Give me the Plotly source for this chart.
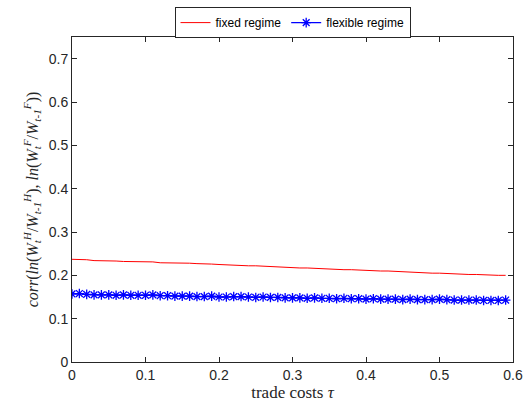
import plotly.graph_objects as go

tau = [round(i * 0.01, 2) for i in range(60)]

fixed_regime = [0.237, 0.237, 0.236, 0.234, 0.234, 0.233, 0.233, 0.232, 0.232, 0.232,
                0.231, 0.231, 0.229, 0.229, 0.228, 0.228, 0.228, 0.227, 0.227, 0.226,
                0.225, 0.224, 0.224, 0.223, 0.222, 0.222, 0.221, 0.220, 0.219, 0.219,
                0.218, 0.217, 0.217, 0.216, 0.216, 0.215, 0.214, 0.213, 0.213, 0.212,
                0.212, 0.211, 0.210, 0.210, 0.209, 0.208, 0.208, 0.207, 0.206, 0.205,
                0.205, 0.204, 0.203, 0.203, 0.202, 0.202, 0.201, 0.201, 0.200, 0.200]

flexible_regime = [0.157, 0.158, 0.156, 0.155, 0.155, 0.155, 0.154, 0.155, 0.154, 0.154,
                   0.154, 0.155, 0.153, 0.153, 0.152, 0.152, 0.152, 0.151, 0.151, 0.152,
                   0.150, 0.150, 0.151, 0.151, 0.150, 0.149, 0.150, 0.149, 0.149, 0.148,
                   0.148, 0.148, 0.147, 0.148, 0.147, 0.147, 0.146, 0.147, 0.146, 0.146,
                   0.145, 0.146, 0.145, 0.145, 0.145, 0.144, 0.145, 0.144, 0.144, 0.144,
                   0.145, 0.144, 0.143, 0.143, 0.143, 0.143, 0.142, 0.142, 0.142, 0.143]

x_ticks = [0, 0.1, 0.2, 0.3, 0.4, 0.5, 0.6]
y_ticks = [0, 0.1, 0.2, 0.3, 0.4, 0.5, 0.6, 0.7]

fig = go.Figure()
fig.add_trace(go.Scatter(x=tau, y=fixed_regime, mode="lines", name="fixed regime",
                         line=dict(color="#ff0000", width=1)))
fig.add_trace(go.Scatter(x=tau, y=flexible_regime, mode="lines+markers", name="flexible regime",
                         line=dict(color="#0000ff", width=1.2),
                         marker=dict(symbol="asterisk-open", size=8,
                                     line=dict(color="#0000ff", width=1.3))))

axis_common = dict(showline=True, linecolor="#262626", linewidth=1, mirror="ticks",
                   ticks="inside", ticklen=5, tickcolor="#262626",
                   showgrid=False, zeroline=False,
                   tickfont=dict(family="Liberation Sans, Arial", size=14, color="#262626"))

fig.update_xaxes(range=[0, 0.6], tickvals=x_ticks, ticktext=[("%g" % v) for v in x_ticks],
                 title=dict(text="trade costs <i>τ</i>", standoff=4,
                            font=dict(family="Liberation Serif, Times New Roman", size=17, color="#262626")),
                 **axis_common)
fig.update_yaxes(range=[0, 0.75], tickvals=y_ticks, ticktext=[("%g" % v) for v in y_ticks],
                 title=dict(text="<i>corr</i>(<i>ln</i>(<i>W</i><sub><i>t</i></sub><sup><i>H</i></sup>/<i>W</i><sub><i>t-1</i></sub><sup><i>H</i></sup>), <i>ln</i>(<i>W</i><sub><i>t</i></sub><sup><i>F</i></sup>/<i>W</i><sub><i>t-1</i></sub><sup><i>F</i></sup>))",
                            standoff=6,
                            font=dict(family="Liberation Serif, Times New Roman", size=16, color="#262626")),
                 **axis_common)

fig.update_layout(
    width=523, height=405, autosize=False,
    margin=dict(l=72, r=10, t=37, b=43, pad=0, autoexpand=False),
    paper_bgcolor="white", plot_bgcolor="white",
    legend=dict(orientation="h", x=0.5, xanchor="center", y=1.092, yanchor="top",
                bordercolor="#262626", borderwidth=1, bgcolor="white",
                font=dict(family="Liberation Sans, Arial", size=12, color="black"),
                itemwidth=30, tracegroupgap=0),
)

fig.write_html("out.html")
